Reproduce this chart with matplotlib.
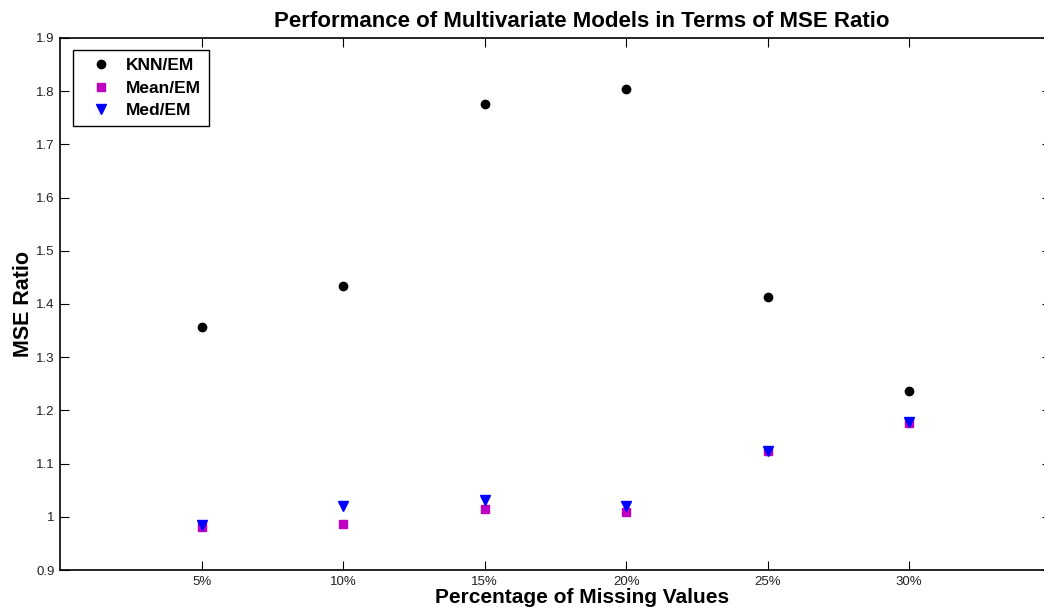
import matplotlib
matplotlib.use('Agg')
import matplotlib.pyplot as plt

plt.rcParams['font.family'] = ['Liberation Sans', 'DejaVu Sans']

# data
categories = ['5%', '10%', '15%', '20%', '25%', '30%']
knn_em = [1.357, 1.433, 1.776, 1.804, 1.413, 1.236]
mean_em = [0.981, 0.986, 1.014, 1.009, 1.124, 1.176]
med_em = [0.985, 1.020, 1.032, 1.020, 1.124, 1.178]
yticks = [0.9, 1.0, 1.1, 1.2, 1.3, 1.4, 1.5, 1.6, 1.7, 1.8, 1.9]
ytick_labels = ['0.9', '1', '1.1', '1.2', '1.3', '1.4', '1.5', '1.6', '1.7', '1.8', '1.9']

xs = list(range(1, len(categories) + 1))

fig = plt.figure(figsize=(10.44, 6.13), dpi=100)
# axes run past the right edge of the figure, as in the original crop
ax = fig.add_axes([0.0575, 0.0701, 0.949, 0.868])

ax.plot(xs, knn_em, 'o', color='black', markersize=6, label='KNN/EM')
ax.plot(xs, mean_em, 's', color='#c000c0', markersize=5.2, label='Mean/EM')
ax.plot(xs, med_em, 'v', color='#0000ff', markersize=7, label='Med/EM')

ax.set_xlim(0, 7)
ax.set_ylim(0.9, 1.9)
ax.set_xticks(xs)
ax.set_xticklabels(categories)
ax.set_yticks(yticks)
ax.set_yticklabels(ytick_labels)
ax.tick_params(direction='in', length=6.5, width=0.8, top=True, right=True,
               labelsize=9.5, pad=4, labelcolor='#222222')
for s in ax.spines.values():
    s.set_linewidth(1.2)

# title and labels sit a bit right of the axes centre, as in the original
ax.text(0.527, 1.02, 'Performance of Multivariate Models in Terms of MSE Ratio',
        transform=ax.transAxes, ha='center', va='baseline',
        fontsize=16, fontweight='bold')
ax.set_xlabel('Percentage of Missing Values', fontsize=15, fontweight='bold')
ax.xaxis.set_label_coords(0.527, -0.034)
ax.set_ylabel('MSE Ratio', fontsize=15.5, fontweight='bold')
ax.yaxis.set_label_coords(-0.026, 0.5)

leg = ax.legend(loc='upper left', bbox_to_anchor=(0.0131, 0.977), fancybox=False,
                edgecolor='black', framealpha=1, borderaxespad=0,
                prop={'weight': 'bold', 'size': 12.5}, handletextpad=0.3,
                handlelength=2.3, labelspacing=0.43, borderpad=0.45)
leg.get_frame().set_linewidth(1.0)

plt.savefig('out.png', dpi=100)
plt.close()
